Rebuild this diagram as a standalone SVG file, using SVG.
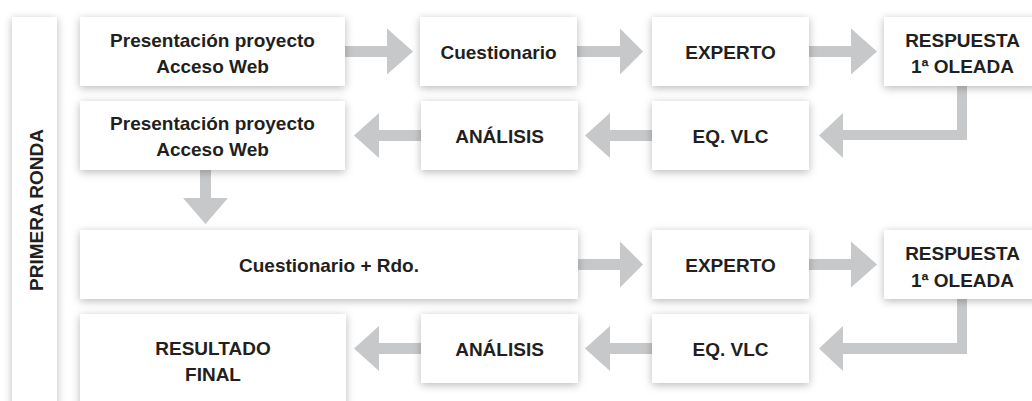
<svg xmlns="http://www.w3.org/2000/svg" width="1032" height="401" viewBox="0 0 1032 401">
<defs>
<filter id="sh" x="-20%" y="-30%" width="140%" height="160%">
<feDropShadow dx="0" dy="2" stdDeviation="4" flood-color="#000" flood-opacity="0.28"/>
</filter>
</defs>
<style>
.box{fill:#fff;filter:url(#sh)}
.t{font-family:"Liberation Sans",Arial,Helvetica,sans-serif;font-weight:bold;font-size:19px;fill:#231f20;text-anchor:middle}
.arr{fill:#c7c8ca}
</style>
<rect width="1032" height="401" fill="#fff"/>
<g id="connectors">
<polygon class="arr" points="343,46 387,46 387,28.5 413,51.5 387,74.5 387,57 343,57"/>
<polygon class="arr" points="575,46 620,46 620,28.5 643,51.5 620,74.5 620,57 575,57"/>
<polygon class="arr" points="807,46 851,46 851,28.5 877,51.5 851,74.5 851,57 807,57"/>
<polygon class="arr" points="423,130 379,130 379,113 354,135.5 379,158 379,141 423,141"/>
<polygon class="arr" points="654,130 610,130 610,113 585,135.5 610,158 610,141 654,141"/>
<polygon class="arr" points="957,84 967,84 967,140 843,140 843,158 819,135.5 843,113 843,130 957,130"/>
<polygon class="arr" points="200,168 211,168 211,198 228,198 205.5,224 183,198 200,198"/>
<polygon class="arr" points="576,259 620,259 620,241.5 643,264.5 620,287.5 620,270 576,270"/>
<polygon class="arr" points="807,259 851,259 851,241.5 877,264.5 851,287.5 851,270 807,270"/>
<polygon class="arr" points="423,343 379,343 379,326 354,348.5 379,371 379,354 423,354"/>
<polygon class="arr" points="654,343 610,343 610,326 585,348.5 610,371 610,354 654,354"/>
<polygon class="arr" points="957,297 967,297 967,354 843,354 843,371 819,348.5 843,326 843,343 957,343"/>
</g>
<g id="label">
<rect class="box" x="12" y="17" width="45" height="400"/>
<text class="t" transform="translate(42.5,210) rotate(-90)" x="0" y="0">PRIMERA RONDA</text>
</g>
<g id="n1">
<rect class="box" x="80" y="17" width="265" height="69"/>
<text class="t" x="212.5" y="46.5">Presentación proyecto</text>
<text class="t" x="212.5" y="72.5">Acceso Web</text>
</g>
<g id="n2">
<rect class="box" x="420" y="17" width="157" height="69"/>
<text class="t" x="498.5" y="59">Cuestionario</text>
</g>
<g id="n3">
<rect class="box" x="652" y="17" width="157" height="69"/>
<text class="t" x="730.5" y="59">EXPERTO</text>
</g>
<g id="n4">
<rect class="box" x="884" y="17" width="157" height="69"/>
<text class="t" x="962.5" y="46.5">RESPUESTA</text>
<text class="t" x="962.5" y="72.5">1ª OLEADA</text>
</g>
<g id="n5">
<rect class="box" x="80" y="101" width="265" height="69"/>
<text class="t" x="212.5" y="130">Presentación proyecto</text>
<text class="t" x="212.5" y="156">Acceso Web</text>
</g>
<g id="n6">
<rect class="box" x="421" y="101" width="157" height="69"/>
<text class="t" x="499.5" y="143">ANÁLISIS</text>
</g>
<g id="n7">
<rect class="box" x="652" y="101" width="157" height="69"/>
<text class="t" x="730.5" y="143">EQ. VLC</text>
</g>
<g id="n8">
<rect class="box" x="80" y="230" width="498" height="69"/>
<text class="t" x="329" y="272">Cuestionario + Rdo.</text>
</g>
<g id="n9">
<rect class="box" x="652" y="230" width="157" height="69"/>
<text class="t" x="730.5" y="272">EXPERTO</text>
</g>
<g id="n10">
<rect class="box" x="884" y="230" width="157" height="69"/>
<text class="t" x="962.5" y="260">RESPUESTA</text>
<text class="t" x="962.5" y="286.5">1ª OLEADA</text>
</g>
<g id="n11">
<rect class="box" x="80" y="314" width="266" height="100"/>
<text class="t" x="213" y="355">RESULTADO</text>
<text class="t" x="213" y="381">FINAL</text>
</g>
<g id="n12">
<rect class="box" x="421" y="314" width="157" height="69"/>
<text class="t" x="499.5" y="356">ANÁLISIS</text>
</g>
<g id="n13">
<rect class="box" x="652" y="314" width="157" height="69"/>
<text class="t" x="730.5" y="356">EQ. VLC</text>
</g>
</svg>
